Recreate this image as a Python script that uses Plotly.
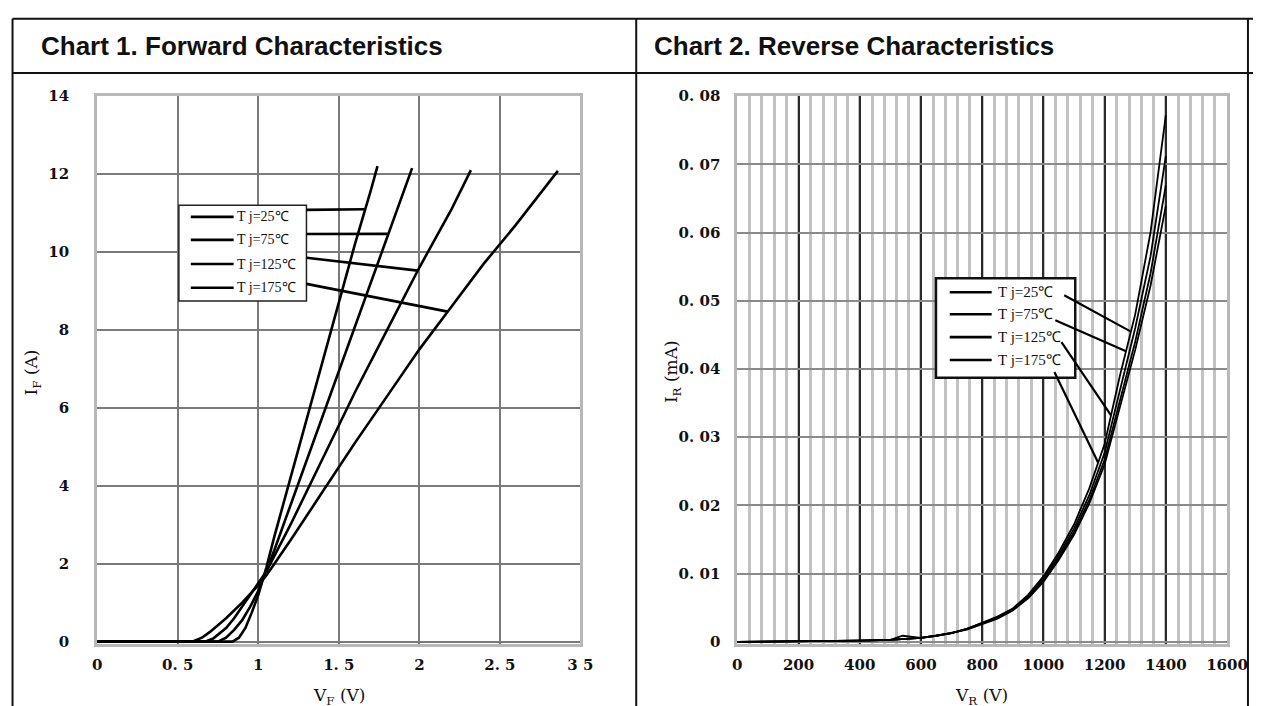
import numpy as np
import plotly.graph_objects as go

W, H = 1272, 706
OFF = 8  # the page body keeps its default 8px margin

# calibration between wanted picture position and layout position (measured on earlier renders)
AX, BX = 0.9832, 2.6
AY, BY = 0.974, 8.4


def fx(r):
    return (r - BX) / AX - OFF


def fy(r):
    return (r - BY) / AY - OFF


def X(r):
    return fx(r) / W


def Y(r):
    return 1 - fy(r) / H


# ---------------- Chart 1 : Forward characteristics ----------------
vf_25 = [0, 0.84, 0.88, 0.92, 0.96, 1.0, 1.05, 1.1, 1.2, 1.3, 1.4, 1.5, 1.6, 1.7, 1.74]
if_25 = [0, 0, 0.1, 0.35, 0.75, 1.2, 1.9, 2.7, 4.2, 5.7, 7.2, 8.7, 10.2, 11.6, 12.2]

vf_75 = [0, 0.75, 0.8, 0.85, 0.9, 0.95, 1.0, 1.05, 1.1, 1.2, 1.3, 1.4, 1.5, 1.6, 1.7, 1.8, 1.9, 1.955]
if_75 = [0, 0, 0.1, 0.3, 0.55, 0.9, 1.3, 1.8, 2.35, 3.5, 4.65, 5.8, 6.9, 8.05, 9.2, 10.35, 11.5, 12.15]

vf_125 = [0, 0.67, 0.72, 0.8, 0.85, 0.9, 0.95, 1.0, 1.05, 1.1, 1.2, 1.4, 1.6, 1.8, 2.0, 2.2, 2.32]
if_125 = [0, 0, 0.08, 0.35, 0.6, 0.9, 1.2, 1.5, 1.8, 2.2, 3.0, 4.7, 6.4, 8.0, 9.6, 11.1, 12.1]

vf_175 = [0, 0.59, 0.65, 0.7, 0.8, 0.9, 1.0, 1.05, 1.1, 1.2, 1.4, 1.6, 1.8, 2.0, 2.2, 2.4, 2.6, 2.86]
if_175 = [0, 0, 0.1, 0.25, 0.6, 1.0, 1.45, 1.7, 2.0, 2.6, 3.85, 5.1, 6.3, 7.5, 8.6, 9.7, 10.7, 12.08]

vf_ticks = [0, 0.5, 1, 1.5, 2, 2.5, 3]
vf_ticktext = ["0", "0. 5", "1", "1. 5", "2", "2. 5", "3 5"]
if_ticks = [0, 2, 4, 6, 8, 10, 12, 14]

# ---------------- Chart 2 : Reverse characteristics ----------------
vr = [0, 100, 200, 300, 400, 500, 540, 600, 650, 700, 750, 800, 850, 900, 950,
      1000, 1050, 1100, 1150, 1200, 1250, 1300, 1350, 1400]
ir_25 = [0, 0.00003, 0.00006, 0.0001, 0.0002, 0.0003, 0.0009, 0.0006, 0.0009, 0.0013, 0.0019, 0.0028,
         0.0037, 0.0049, 0.0069, 0.0096, 0.0131, 0.0172, 0.0225, 0.0290, 0.0390, 0.0480, 0.0600, 0.0772]
ir_75 = [0, 0.00003, 0.00006, 0.0001, 0.0002, 0.0003, 0.0004, 0.0006, 0.0009, 0.0013, 0.0019, 0.0027,
         0.0036, 0.0048, 0.0067, 0.0093, 0.0127, 0.0166, 0.0215, 0.0277, 0.0370, 0.0460, 0.0565, 0.0712]
ir_125 = [0, 0.00003, 0.00006, 0.0001, 0.0002, 0.0003, 0.0004, 0.0006, 0.0009, 0.0013, 0.0019, 0.0027,
          0.0035, 0.0047, 0.0065, 0.0090, 0.0123, 0.0161, 0.0208, 0.0267, 0.0355, 0.0440, 0.0540, 0.0669]
ir_175 = [0, 0.00003, 0.00006, 0.0001, 0.0002, 0.0003, 0.0004, 0.0006, 0.0009, 0.0013, 0.0018, 0.0026,
          0.0034, 0.0046, 0.0064, 0.0088, 0.0120, 0.0157, 0.0203, 0.0260, 0.0345, 0.0428, 0.0522, 0.0639]

vr_ticks = [0, 200, 400, 600, 800, 1000, 1200, 1400, 1600]
ir_ticks = [0, 0.01, 0.02, 0.03, 0.04, 0.05, 0.06, 0.07, 0.08]
ir_ticktext = ["0", "0. 01", "0. 02", "0. 03", "0. 04", "0. 05", "0. 06", "0. 07", "0. 08"]

labels = ["T j=25℃", "T j=75℃", "T j=125℃", "T j=175℃"]

# ---------------- figure ----------------
fig = go.Figure()

fwd = [(vf_25, if_25), (vf_75, if_75), (vf_125, if_125), (vf_175, if_175)]
for (v, i), name in zip(fwd, labels):
    fig.add_trace(go.Scatter(x=v, y=i, mode="lines", name=name, showlegend=False,
                             line=dict(color="black", width=2.6), xaxis="x", yaxis="y"))

rev = [ir_25, ir_75, ir_125, ir_175]
for i, name in zip(rev, labels):
    fig.add_trace(go.Scatter(x=vr, y=i, mode="lines", name=name, showlegend=False,
                             line=dict(color="black", width=1.8), xaxis="x2", yaxis="y2"))

tickfont = dict(family="DejaVu Serif", size=15, color="#111111", weight="bold")
frame_line = dict(showline=True, mirror=True, linecolor="#b8b8b8", linewidth=3)

fig.update_layout(
    width=W, height=H, margin=dict(l=0, r=0, t=0, b=0),
    paper_bgcolor="white", plot_bgcolor="white",
    xaxis=dict(domain=[X(95), X(580)], range=[0, 3], tickvals=vf_ticks, ticktext=vf_ticktext,
               showgrid=True, gridcolor="#7a7a7a", gridwidth=2, zeroline=False, **frame_line,
               ticks="", ticklabelstandoff=5, tickfont=tickfont, anchor="y"),
    yaxis=dict(domain=[Y(641), Y(95)], range=[-0.06, 14], tickvals=if_ticks,
               showgrid=True, gridcolor="#7a7a7a", gridwidth=2, zeroline=False, **frame_line,
               ticks="", ticklabelstandoff=22, tickfont=tickfont, anchor="x"),
    xaxis2=dict(domain=[X(737.5), X(1229)], range=[0, 1600], tickvals=vr_ticks,
                showgrid=True, gridcolor="#2a2a2a", gridwidth=2, zeroline=False, **frame_line,
                minor=dict(dtick=40, tick0=0, showgrid=True, gridcolor="#c2c2c2", gridwidth=3),
                ticks="", ticklabelstandoff=5, tickfont=tickfont, anchor="y2"),
    yaxis2=dict(domain=[Y(641), Y(95)], range=[-0.0003, 0.08], tickvals=ir_ticks,
                ticktext=ir_ticktext, showgrid=True, gridcolor="#8a8a8a", gridwidth=2,
                zeroline=False, **frame_line, ticks="", ticklabelstandoff=11,
                tickfont=tickfont, anchor="x2"),
)

shapes = []
# outer table frame (wanted picture positions)
frame = dict(type="line", xref="paper", yref="paper", line=dict(color="#111111", width=2))
for x0, y0, x1, y1 in [(10, 18, 1258, 18), (10, 72, 1258, 72), (10, 18, 10, 706),
                       (636, 18, 636, 706), (1250, 18, 1250, 706)]:
    shapes.append(dict(frame, x0=X(x0), x1=X(x1), y0=Y(y0), y1=Y(y1)))

ann = []
title_font = dict(family="Liberation Sans", size=26, color="#111111", weight="bold")
ann.append(dict(xref="paper", yref="paper", x=X(37), y=Y(45), xanchor="left", yanchor="middle",
                text="Chart 1. Forward Characteristics", showarrow=False, font=title_font))
ann.append(dict(xref="paper", yref="paper", x=X(652), y=Y(45), xanchor="left", yanchor="middle",
                text="Chart 2. Reverse Characteristics", showarrow=False, font=title_font))

axis_font = dict(family="DejaVu Serif", size=17, color="#111111")
for txt, px, py, ang in [("V<sub>F</sub> (V)", 338, 693, 0), ("I<sub>F</sub> (A)", 30, 370, -90),
                         ("V<sub>R</sub> (V)", 983, 693, 0), ("I<sub>R</sub> (mA)", 672, 370, -90)]:
    ann.append(dict(xref="paper", yref="paper", x=X(px), y=Y(py), xanchor="center", yanchor="middle",
                    text=txt, textangle=ang, showarrow=False, font=axis_font))

leg_font = dict(family="Liberation Serif", size=14, color="#111111")

# ---- legend chart 1 (data coords)
shapes.append(dict(type="rect", xref="x", yref="y", x0=0.507, x1=1.299, y0=8.74, y1=11.2,
                   fillcolor="white", line=dict(color="#222222", width=1.5), layer="above"))
entry_y1 = [10.9, 10.31, 9.69, 9.08]
lead_start1 = [11.08, 10.46, 9.85, 9.18]
lead_v1 = [1.664, 1.81, 1.99, 2.176]
for k, ((v, i), name) in enumerate(zip(fwd, labels)):
    shapes.append(dict(type="line", xref="x", yref="y", x0=0.581, x1=0.847, y0=entry_y1[k], y1=entry_y1[k],
                       line=dict(color="black", width=2.6), layer="above"))
    ann.append(dict(xref="x", yref="y", x=0.855, y=entry_y1[k], xanchor="left", yanchor="middle",
                    text=name, showarrow=False, font=leg_font))
    ye = float(np.interp(lead_v1[k], v, i))
    shapes.append(dict(type="line", xref="x", yref="y", x0=1.299, x1=lead_v1[k], y0=lead_start1[k], y1=ye,
                       line=dict(color="black", width=2.6), layer="above"))

# ---- legend chart 2 (data coords)
shapes.append(dict(type="rect", xref="x2", yref="y2", x0=649, x1=1104, y0=0.0387, y1=0.0533,
                   fillcolor="white", line=dict(color="#111111", width=2.5), layer="above"))
entry_y2 = [0.05124, 0.04803, 0.04467, 0.04131]
lead_x2 = [1068, 1039, 1059, 1036]
lead_y2 = [0.0508, 0.04715, 0.04394, 0.03956]
lead_v2 = [1286, 1270, 1221, 1179]
leg_font2 = dict(family="Liberation Serif", size=15, color="#111111")
for k, name in enumerate(labels):
    shapes.append(dict(type="line", xref="x2", yref="y2", x0=694, x1=831, y0=entry_y2[k], y1=entry_y2[k],
                       line=dict(color="black", width=2.6), layer="above"))
    ann.append(dict(xref="x2", yref="y2", x=845, y=entry_y2[k], xanchor="left", yanchor="middle",
                    text=name, showarrow=False, font=leg_font2))
    ye = float(np.interp(lead_v2[k], vr, ir_25))
    shapes.append(dict(type="line", xref="x2", yref="y2", x0=lead_x2[k], x1=lead_v2[k], y0=lead_y2[k], y1=ye,
                       line=dict(color="black", width=2.2), layer="above"))

fig.update_layout(shapes=shapes, annotations=ann)
fig.write_html("out.html")
